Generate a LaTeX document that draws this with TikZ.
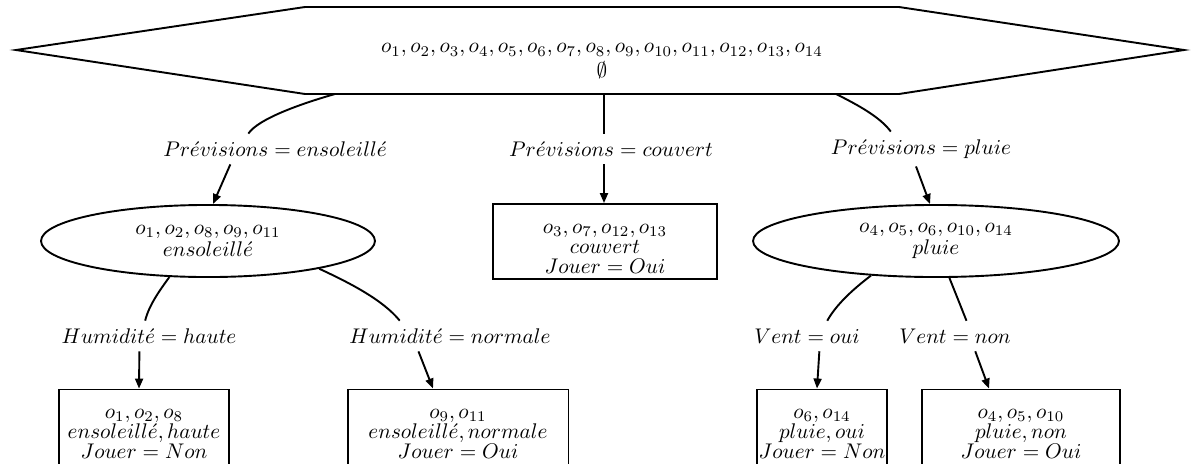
\documentclass[tikz,border=0pt]{standalone}
\usetikzlibrary{shapes.geometric,arrows.meta}
% extra room above the first line of a leaf box
\newcommand\topgap{\rule{0pt}{11pt}}
\begin{document}
\begin{tikzpicture}[x=0.4717pt,y=-0.4717pt,line width=0.9pt,
  txt/.style={align=center,inner sep=0pt,font={\baselineskip=9.4pt\lineskiplimit=-20pt}},
  lab/.style={inner sep=3.33pt},
  oval/.style={ellipse,draw,txt,minimum height=34pt},
  leaf/.style={rectangle,draw,txt,minimum height=35.4pt},
  arr/.style={-{Triangle[length=4.7pt,width=3.8pt]}}]
\useasboundingbox (0,0) rectangle (1198,463);

% root: elongated hexagon with the full set of observations
\draw[line join=miter] (16,50) -- (305,7) -- (899,7) -- (1184,50) -- (899,94) -- (305,94) -- cycle;
\node[txt] (root) at (602,61)
  {$o_1, o_2, o_3, o_4, o_5, o_6, o_7, o_8, o_9, o_{10}, o_{11}, o_{12}, o_{13}, o_{14}$\\[2pt]$\emptyset$};
\coordinate (rs1) at (335,94);
\coordinate (rs2) at (604,94);
\coordinate (rs3) at (836,94);

% edge labels
\node[lab] (l1) at (275,149) {$Pr\acute{e}visions = ensoleill\acute{e}$};
\node[lab] (l2) at (611,149) {$Pr\acute{e}visions = couvert$};
\node[lab] (l3) at (921,149) {$Pr\acute{e}visions = pluie$};
\node[lab] (l4) at (149,336) {$Humidit\acute{e} = haute$};
\node[lab] (l5) at (450,336) {$Humidit\acute{e} = normale$};
\node[lab] (l6) at (807,336) {$Vent = oui$};
\node[lab] (l7) at (955,336) {$Vent = non$};

% inner nodes and leaves
\node[oval,minimum width=157.5pt] (e1) at (208,241) {$o_1, o_2, o_8, o_9, o_{11}$\\[1pt]$ensoleill\acute{e}$};
\node[leaf,minimum width=105.7pt] (b0) at (605,241.5) {\topgap$o_3, o_7, o_{12}, o_{13}$\\$couvert$\\$Jouer = Oui$};
\node[oval,minimum width=172.6pt] (e2) at (936,241) {$o_4, o_5, o_6, o_{10}, o_{14}$\\[1pt]$pluie$};
\node[leaf,minimum width=80.2pt] (b1) at (144,427) {\topgap$o_1, o_2, o_8$\\$ensoleill\acute{e}, haute$\\$Jouer = Non$};
\node[leaf,minimum width=104.2pt] (b2) at (458,427) {\topgap$o_9, o_{11}$\\$ensoleill\acute{e}, normale$\\$Jouer = Oui$};
\node[leaf,minimum width=61.3pt] (b3) at (822,427) {\topgap$o_6, o_{14}$\\$pluie, oui$\\$Jouer = Non$};
\node[leaf,minimum width=93.4pt] (b4) at (1021,427) {\topgap$o_4, o_5, o_{10}$\\$pluie, non$\\$Jouer = Oui$};

% connectors
\draw (rs1) .. controls (300,104) and (258,119) .. (l1.150);
\draw[arr] (l1.199) -- (e1.north -| 213,0);
\draw (rs2) -- (rs2 |- l2.north);
\draw[arr] (rs2 |- l2.south) -- (rs2 |- b0.north);
\draw (rs3) .. controls (858,105) and (880,117) .. (l3.150);
\draw[arr] (l3.254) -- (e2.north -| 930,0);
\draw (e1.223) .. controls (160,290) and (149,305) .. (l4.104);
\draw[arr] (l4.238) -- (b1.north -| 139,0);
\draw (e1.346) .. controls (350,283) and (383,300) .. (l5.163);
\draw[arr] (l5.206) -- (b2.north -| 433,0);
\draw (e2.208) .. controls (852,290) and (836,305) .. (l6.37);
\draw[arr] (l6.309) -- (b3.north -| 817,0);
\draw (e2.290) -- (l7.53);
\draw[arr] (l7.323) -- (b4.north -| 989,0);
\end{tikzpicture}
\end{document}
